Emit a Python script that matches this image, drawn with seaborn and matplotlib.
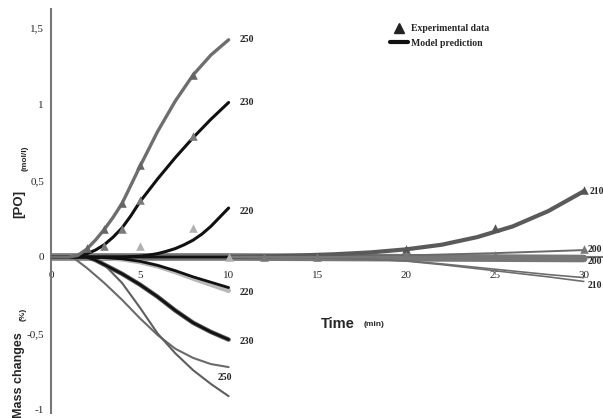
import numpy as np
import pandas as pd
import matplotlib
matplotlib.use("Agg")
import matplotlib.pyplot as plt
import seaborn as sns
from matplotlib.lines import Line2D

# ---- data ----
# [PO] model curves (mol/l)
t_po250 = [0, 1, 1.5, 2, 2.5, 3, 3.5, 4, 4.5, 5, 6, 7, 8, 9, 10]
po250 = [0, 0, 0.01, 0.05, 0.11, 0.18, 0.26, 0.35, 0.47, 0.59, 0.82, 1.02, 1.19, 1.32, 1.42]
t_po230 = [0, 1, 1.5, 2, 2.5, 3, 3.5, 4, 4.5, 5, 6, 7, 8, 9, 10]
po230 = [0, 0, 0.005, 0.02, 0.045, 0.08, 0.13, 0.19, 0.27, 0.36, 0.51, 0.65, 0.78, 0.9, 1.01]
t_po220 = [0, 4, 5, 5.5, 6, 6.5, 7, 7.5, 8, 8.5, 9, 9.5, 10]
po220 = [0, 0, 0.005, 0.012, 0.022, 0.037, 0.055, 0.08, 0.11, 0.15, 0.2, 0.26, 0.32]
t_po210 = [0, 10, 12, 14, 16, 18, 20, 22, 24, 26, 28, 30]
po210 = [0, 0.0, 0.004, 0.01, 0.018, 0.03, 0.05, 0.08, 0.13, 0.2, 0.3, 0.43]
t_po200 = [0, 15, 20, 25, 30]
po200 = [0, 0.003, 0.01, 0.025, 0.045]

# [PO] experimental points
t_exp250 = [2, 3, 4, 5, 8]
exp250 = [0.06, 0.18, 0.35, 0.6, 1.19]
t_exp230 = [3, 4, 5, 8]
exp230 = [0.07, 0.18, 0.37, 0.79]
t_exp220 = [5, 8, 10]
exp220 = [0.07, 0.19, 0.0]
t_exp210 = [20, 25, 30]
exp210 = [0.05, 0.19, 0.44]
t_exp200 = [12, 15, 20, 25, 30]
exp200 = [0.0, 0.0, 0.01, 0.01, 0.05]

# Mass changes (%)
t_m200 = [0, 10, 20, 30]
m200 = [0, 0, -0.005, -0.01]
t_m210 = [0, 12, 15, 18, 20, 22, 25, 28, 30]
m210a = [0, 0, -0.005, -0.015, -0.025, -0.045, -0.08, -0.115, -0.135]
m210b = [0, 0, -0.005, -0.015, -0.027, -0.05, -0.09, -0.13, -0.16]
t_m220 = [0, 2, 3, 4, 5, 6, 7, 8, 9, 10]
m220 = [0, 0, -0.005, -0.012, -0.028, -0.055, -0.09, -0.13, -0.165, -0.2]
m220exp = [0, 0, -0.005, -0.014, -0.032, -0.06, -0.097, -0.14, -0.18, -0.22]
t_m230 = [0, 2, 2.5, 3, 4, 5, 6, 7, 8, 9, 10]
m230 = [0, 0, -0.02, -0.05, -0.11, -0.18, -0.26, -0.35, -0.43, -0.49, -0.54]
t_m250a = [0, 1.2, 2, 3, 4, 5, 6, 7, 8, 9, 10]
m250a = [0, 0, -0.07, -0.17, -0.28, -0.4, -0.51, -0.6, -0.66, -0.7, -0.72]
t_m250b = [0, 2.4, 3, 4, 5, 6, 7, 8, 9, 10]
m250b = [0, 0, -0.05, -0.17, -0.33, -0.5, -0.63, -0.74, -0.83, -0.91]

x_ticks = [0, 5, 10, 15, 20, 25, 30]
y_ticks = [-1, -0.5, 0, 0.5, 1, 1.5]
y_ticklabels = ["-1", "-0,5", "0", "0,5", "1", "1,5"]

# ---- plot ----
sns.set_style("white")
fig = plt.figure(figsize=(6.03, 4.18), dpi=100)
ax = fig.add_axes([0.0846, 0.012, 0.913, 0.966])

def line(t, y, color, lw, z=2, **kw):
    sns.lineplot(x=t, y=y, ax=ax, color=color, linewidth=lw, zorder=z,
                 estimator=None, sort=False, legend=False, **kw)

def pts(t, y, color, s=38, z=5):
    sns.scatterplot(x=t, y=y, ax=ax, color=color, marker="^", s=s,
                    linewidth=0, zorder=z, legend=False)

# band at zero (200 mass / baseline)
line(t_m200, m200, "#777777", 5.5, z=1)
line([0, 10], [0, 0], "#111111", 1.6, z=3)

# mass changes
line(t_m210, m210a, "#6e6e6e", 1.2)
line(t_m210, m210b, "#6e6e6e", 1.2)
line(t_m220, m220exp, "#b8b8b8", 3.5)
line(t_m220, m220, "#111111", 2.0, z=3)
line(t_m230, m230, "#555555", 3.2)
line(t_m230, m230, "#111111", 1.8, z=3)
line(t_m250a, m250a, "#6a6a6a", 1.5)
line(t_m250b, m250b, "#5e5e5e", 1.5)

# PO curves
line(t_po200, po200, "#6a6a6a", 1.4)
line(t_po210, po210, "#5a5a5a", 3.0)
line(t_po220, po220, "#111111", 2.2, z=3)
line(t_po230, po230, "#111111", 2.2, z=3)
line(t_po250, po250, "#6e6e6e", 2.4, z=3)

pts(t_exp250, exp250, "#666666")
pts(t_exp230, exp230, "#7a7a7a")
pts(t_exp220, exp220, "#b0b0b0")
pts(t_exp210, exp210, "#555555")
pts(t_exp200, exp200, "#777777")

ax.set_xlim(0, 31)
ax.set_ylim(-1.02, 1.62)

for s in ["top", "right"]:
    ax.spines[s].set_visible(False)
ax.spines["left"].set_color("#777777")
ax.spines["left"].set_linewidth(1.5)
ax.spines["bottom"].set_position(("data", 0))
ax.spines["bottom"].set_color("#777777")
ax.spines["bottom"].set_linewidth(1.5)

serif = ["Liberation Serif", "DejaVu Serif"]
ax.set_xticks(x_ticks)
ax.set_xticklabels([str(v) for v in x_ticks], family=serif, fontsize=8)
ax.set_yticks(y_ticks)
ax.set_yticklabels(y_ticklabels, family=serif, fontsize=8)
ax.tick_params(axis="y", direction="out", length=3, width=1, color="#777777", pad=2)
ax.tick_params(axis="x", direction="out", length=0, pad=10)

# curve labels
lab = dict(family=serif, fontsize=7, fontweight="bold", va="center", ha="left")
ax.text(10.6, 1.42, "250", **lab)
ax.text(10.6, 1.01, "230", **lab)
ax.text(10.6, 0.3, "220", **lab)
ax.text(30.35, 0.43, "210", **lab)
ax.text(30.2, 0.05, "200", **lab)
ax.text(30.2, -0.03, "200", **lab)
ax.text(30.2, -0.185, "210", **lab)
ax.text(10.6, -0.23, "220", **lab)
ax.text(10.6, -0.55, "230", **lab)
ax.text(9.4, -0.79, "250", **lab)

# axis titles
ax.text(15.2, -0.44, "Time", family="Liberation Sans", fontsize=10.5,
        fontweight="bold", va="center", ha="left")
ax.text(17.6, -0.44, "(min)", family="Liberation Sans", fontsize=6,
        fontweight="bold", va="center", ha="left")
fig.text(0.0315, 0.512, "[PO]", rotation=90, family="Liberation Sans",
         fontsize=9.5, fontweight="bold", va="center", ha="center")
fig.text(0.041, 0.622, "(mol/l)", rotation=90, family="Liberation Sans",
         fontsize=6, fontweight="bold", va="center", ha="center")
fig.text(0.031, 0.103, "Mass changes", rotation=90, family="Liberation Sans",
         fontsize=9, fontweight="bold", va="center", ha="center")
fig.text(0.039, 0.248, "(%)", rotation=90, family="Liberation Sans",
         fontsize=6, fontweight="bold", va="center", ha="center")

# legend
handles = [Line2D([], [], marker="^", color="#222222", linestyle="none", markersize=7),
           Line2D([], [], color="#111111", linewidth=3)]
leg = ax.legend(handles, ["Experimental data", "Model prediction"],
                loc="upper left", bbox_to_anchor=(0.6, 0.985), frameon=False,
                prop=dict(family=serif, size=7, weight="bold"),
                handlelength=1.8, handletextpad=0.4, labelspacing=0.6)

fig.savefig("out.png", dpi=100)
